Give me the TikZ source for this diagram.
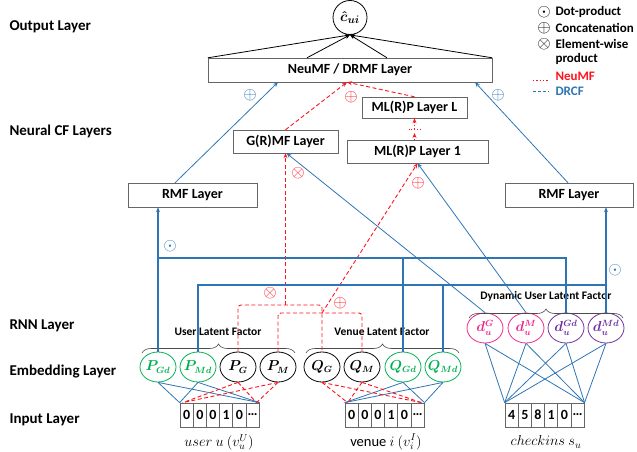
\documentclass[tikz,border=0pt]{standalone}
\usepackage{amsmath}
\usepackage{fontspec}
\setmainfont{Carlito}
\usetikzlibrary{arrows.meta,shapes.geometric,decorations.pathreplacing}

\definecolor{drcfblue}{RGB}{46,117,182}
\definecolor{neured}{RGB}{255,20,30}
\definecolor{embgreen}{RGB}{0,176,80}
\definecolor{dynpink}{RGB}{240,40,140}
\definecolor{dynpurple}{RGB}{112,48,160}

\newcommand{\fixtext}[1]{\makebox[0pt]{#1}}

\tikzset{
  layerbox/.style={draw=black!60, fill=white, inner sep=0pt, font=\bfseries\fontsize{14}{16}\selectfont},
  sidelabel/.style={anchor=west, font=\bfseries\fontsize{15}{18}\selectfont},
  embed/.style={ellipse, line width=0.8pt, minimum width=36pt, minimum height=30pt, inner sep=0pt, font=\fontsize{13.5}{16}\selectfont},
  cell/.style={draw=black!60, line width=0.7pt, minimum width=13.2pt, minimum height=24pt, inner sep=0pt, font=\bfseries\fontsize{14}{16}\selectfont},
  bottomlab/.style={font=\fontsize{14.5}{17}\selectfont},
  bracelab/.style={font=\bfseries\fontsize{11.5}{13}\selectfont},
  legtext/.style={anchor=west, font=\bfseries\fontsize{13}{15}\selectfont},
  opsym/.style={inner sep=0pt, font=\fontsize{18}{18}\selectfont},
  blueline/.style={drcfblue, line width=0.8pt},
  busline/.style={drcfblue, line width=1.2pt},
  reddash/.style={neured, dash pattern=on 4pt off 2.5pt, line width=0.9pt},
  reddot/.style={neured, dotted, line width=0.9pt},
  into/.style={-{Stealth[length=5pt,width=4pt]}},
  latent/.style={black!70, line width=0.6pt, decorate, decoration={brace, amplitude=9pt}},
}

\begin{document}
\begin{tikzpicture}[x=1pt, y=-1pt]
    \useasboundingbox (0,0) rectangle (637,452);

    % Layer names on the left
    \node[sidelabel] (lout) at (6,27) {Output Layer};
    \node[sidelabel] (lncf) at (6,131) {Neural CF Layers};
    \node[sidelabel] (lrnn) at (6,326) {RNN Layer};
    \node[sidelabel] (lemb) at (6,372) {Embedding Layer};
    \node[sidelabel] (linp) at (6,420) {Input Layer};

    % Output node
    \node[circle, draw, line width=0.8pt, minimum size=34pt, inner sep=0pt, font=\fontsize{15}{18}\selectfont] (out) at (350,17.5) {\fixtext{$\boldsymbol{\hat{c}_{ui}}$}};

    % Legend
    \node[opsym, font=\fontsize{16}{16}\selectfont] (sdot) at (544,12) {$\odot$};
    \node[legtext] (lg1) at (552,12) {Dot-product};
    \node[opsym, font=\fontsize{16}{16}\selectfont] (scat) at (544,28) {$\oplus$};
    \node[legtext] (lg2) at (552,28) {Concatenation};
    \node[opsym, font=\fontsize{16}{16}\selectfont] (smul) at (544,44) {$\otimes$};
    \node[legtext] (lg3) at (552,44) {Element-wise};
    \node[legtext] (lg3b) at (552,59) {product};
    \node[legtext, text=neured] (lg4) at (552,76) {NeuMF};
    \node[legtext, text=drcfblue] (lg5) at (552,91) {DRCF};
    \draw[neured, dotted, line width=1.3pt] ([xshift=-19pt]lg4.base west) -- ([xshift=-3pt]lg4.base west);
    \draw[drcfblue, dash pattern=on 3pt off 2pt, line width=1pt] ([xshift=-19pt,yshift=4pt]lg5.base west) -- ([xshift=-3pt,yshift=4pt]lg5.base west);

    % Neural CF boxes
    \node[layerbox, minimum width=284pt, minimum height=24pt] (neumf) at (350,70) {NeuMF / DRMF Layer};
    \node[layerbox, minimum width=105pt, minimum height=21pt] (mlpL) at (414.5,107.5) {ML(R)P Layer L};
    \node[layerbox, minimum width=141pt, minimum height=23pt] (mlp1) at (417.5,151.5) {ML(R)P Layer 1};
    \node[layerbox, minimum width=105pt, minimum height=23pt] (gmf) at (285.5,141.5) {G(R)MF Layer};
    \node[layerbox, minimum width=129pt, minimum height=24pt] (rmfL) at (192.5,195) {RMF Layer};
    \node[layerbox, minimum width=128pt, minimum height=24pt] (rmfR) at (569,195) {RMF Layer};

    % Embedding nodes
    \foreach \name/\x/\col/\txt in {PGd/158/embgreen/P_{Gd}, PMd/198/embgreen/P_{Md}, PG/238/black/P_G, PM/278/black/P_M,
                                   QG/322/black/Q_G, QM/362/black/Q_M, QGd/403/embgreen/Q_{Gd}, QMd/443/embgreen/Q_{Md}}
        \node[embed, draw=\col, text=\col] (\name) at (\x,367) {\fixtext{$\boldsymbol{\txt}$}};

    % Dynamic user nodes (RNN)
    \foreach \name/\x/\col/\txt in {dG/485/dynpink/d_u^G, dM/526/dynpink/d_u^M, dGd/566/dynpurple/d_u^{Gd}, dMd/606/dynpurple/d_u^{Md}}
        \node[embed, draw=\col, text=\col] (\name) at (\x,328) {\fixtext{$\boldsymbol{\txt}$}};

    % Input vectors
    \foreach \d [count=\i] in {0,0,0,1,0,\ldots}
        \node[cell] (u\i) at ({173.4+13.2*\i},415) {\d};
    \foreach \d [count=\i] in {0,0,0,1,0,\ldots}
        \node[cell] (v\i) at ({338.4+13.2*\i},415) {\d};
    \foreach \d [count=\i] in {4,5,8,1,0,\ldots}
        \node[cell] (c\i) at ({498.4+13.2*\i},415) {\d};

    \node[bottomlab] (ulab) at (219,442) {$user\ u\ (v_u^U)$};
    \node[bottomlab] (vlab) at (386,442) {venue $i$ $(v_i^I)$};
    \node[bottomlab] (clab) at (546,442) {$checkins\ s_u$};

    % Latent factor braces
    \draw[latent] (142,353) -- (295,353);
    \node[bracelab] (ulf) at (218,332) {User Latent Factor};
    \draw[latent] (306,353) -- (459,353);
    \node[bracelab] (vlf) at (382,332) {Venue Latent Factor};
    \draw[latent] (469,318) -- (623,318);
    \node[bracelab] (dlf) at (546,296) {Dynamic User Latent Factor};

    % Output connections
    \draw[into, line width=0.8pt] (neumf.north west) -- (out.south);
    \draw[into, line width=0.8pt] ([xshift=-43pt]neumf.north) -- (out.south);
    \draw[into, line width=0.8pt] ([xshift=37pt]neumf.north) -- (out.south);
    \draw[into, line width=0.8pt] (neumf.north east) -- (out.south);

    % Into NeuMF / DRMF layer
    \draw[blueline, into] ([xshift=-17.5pt]rmfL.north) -- ([xshift=-72pt]neumf.south);
    \draw[blueline, into] ([xshift=-1pt]rmfR.north) -- ([xshift=125pt]neumf.south);
    \draw[reddash, into] (gmf.north) -- ([xshift=-3pt]neumf.south);
    \draw[reddash, into] (mlpL.north) -- ([xshift=-3pt]neumf.south);

    % Hidden MLP layers
    \coordinate (dotbar) at (414.5,129);
    \draw[reddot, into] (mlp1.north -| mlpL.south) -- ([yshift=-4pt]dotbar);
    \draw[reddot, into] (dotbar) -- (mlpL.south);
    \draw[reddot] ([xshift=-6pt]dotbar) -- ([xshift=6pt]dotbar);

    % Dynamic factors into GMF and MLP
    \draw[blueline, into] (dG.north) -- ([xshift=1pt]gmf.south);
    \draw[blueline, into] (dM.north) -- (mlp1.south);

    % Red NeuMF paths
    \coordinate (gbr) at (0,305);
    \coordinate (mbr) at (0,313);
    \draw[reddash, rounded corners=3pt] (PG.north) |- (QG.north |- gbr) -- (QG.north);
    \draw[reddash, rounded corners=3pt] (PM.north) |- (QM.north |- mbr) -- (QM.north);
    \draw[reddash, into] (gmf.south |- gbr) -- (gmf.south);
    \draw[reddash, into] (QG.north |- mbr) -- (mlp1.south);

    % Blue DRCF buses
    \coordinate (gbus) at (0,258);
    \coordinate (mbus) at (0,285);
    \draw[busline, into] (PGd.north) -- (PGd.north |- rmfL.south);
    \draw[busline] (PGd.north |- gbus) -| (dGd.north);
    \draw[busline] (QGd.north) -- (QGd.north |- gbus);
    \draw[busline] (PMd.north) |- (dMd.north |- mbus) -- (dMd.north);
    \draw[busline, into] (dMd.north) -- (dMd.north |- rmfR.south);
    \draw[busline] (QMd.north) -- (QMd.north |- mbus);

    % Operators
    \node[opsym, text=drcfblue] (catL) at (250,95) {$\oplus$};
    \node[opsym, text=drcfblue] (catR) at (498,95) {$\oplus$};
    \node[opsym, text=neured] (catN) at (351,97) {$\oplus$};
    \node[opsym, text=neured] (mulG) at (298,173) {$\otimes$};
    \node[opsym, text=neured] (catM) at (418,183) {$\oplus$};
    \node[opsym, text=drcfblue] (dotL) at (170,246) {$\odot$};
    \node[opsym, text=drcfblue] (dotR) at (615,270) {$\odot$};
    \node[opsym, text=neured] (mulE) at (270,293) {$\otimes$};
    \node[opsym, text=neured] (catE) at (340,303) {$\oplus$};

    % Embedding to input
    \foreach \e in {PGd, PMd} {
        \draw[blueline] (\e.south) -- (u1.north west);
        \draw[blueline] (\e.south) -- (u6.north east);
    }
    \foreach \e in {PG, PM} {
        \draw[reddash] (\e.south) -- ([xshift=3pt]u1.north west);
        \draw[reddash] (\e.south) -- ([xshift=-3pt]u6.north east);
    }
    \foreach \e in {QGd, QMd} {
        \draw[blueline] (\e.south) -- (v1.north west);
        \draw[blueline] (\e.south) -- (v6.north east);
    }
    \foreach \e in {QG, QM} {
        \draw[reddash] (\e.south) -- ([xshift=3pt]v1.north west);
        \draw[reddash] (\e.south) -- ([xshift=-3pt]v6.north east);
    }
    \foreach \e in {dG, dM, dGd, dMd} {
        \draw[blueline] (\e.south) -- (c1.north west);
        \draw[blueline] (\e.south) -- (c6.north east);
    }
\end{tikzpicture}
\end{document}
